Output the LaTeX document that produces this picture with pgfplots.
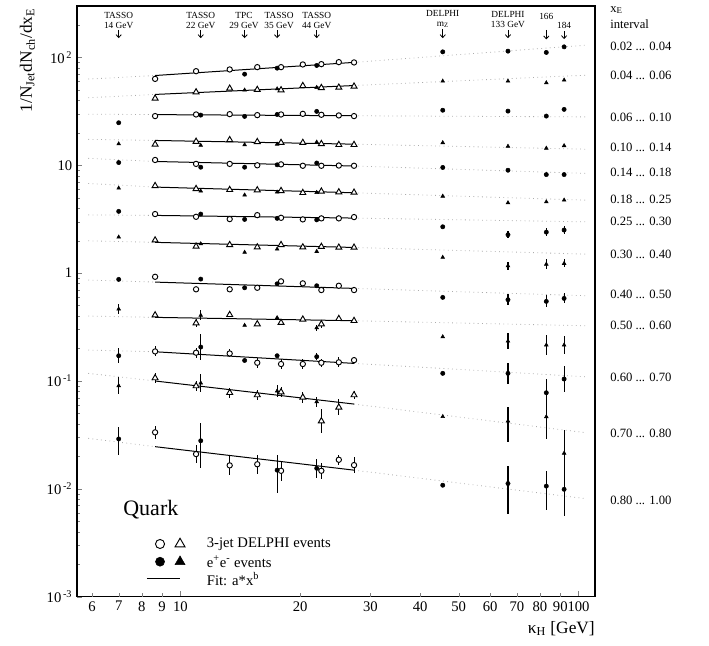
\documentclass[border=0pt]{standalone}
\usepackage{fontspec}
\setmainfont{Liberation Serif}
\usepackage{pgfplots}
\pgfplotsset{compat=1.18}
\usetikzlibrary{arrows.meta}
\pgfplotsset{
  dotfit/.style={gray!65, line width=0.6pt, dash pattern=on 0.6pt off 2.6pt, no marks, forget plot},
  fitl/.style={black, line width=0.75pt, no marks, forget plot},
  ebar/.style={error bars/.cd, y dir=both, y explicit, error mark=none, error bar style={line width=0.8pt, solid}},
}
\begin{document}
\begin{tikzpicture}
\begin{axis}[
  scale only axis, width=388.5pt, height=443pt,
  xmode=log, ymode=log, xmin=5.5, xmax=110, ymin=1e-3, ymax=300,
  axis line style={line width=0.9pt},
  tick pos=left, tick align=inside,
  major tick length=4pt, minor tick length=2pt,
  xtick={10,100}, xticklabels={10,100},
  extra x ticks={6,7,8,9,20,30,40,50,60,70,80,90},
  extra x tick labels={6,7,8,9,20,30,40,50,60,70,80,90},
  extra x tick style={major tick length=2.5pt},
  minor xtick={},
  ytick={1e-3,1e-2,1e-1,1,10,100},
  yticklabels={10\textsuperscript{\,-3},10\textsuperscript{\,-2},10\textsuperscript{\,-1},1,10,10\textsuperscript{\,2}},
  minor ytick={2e-3,3e-3,4e-3,5e-3,6e-3,7e-3,8e-3,9e-3,2e-2,3e-2,4e-2,5e-2,6e-2,7e-2,8e-2,9e-2,0.2,0.3,0.4,0.5,0.6,0.7,0.8,0.9,2,3,4,5,6,7,8,9,20,30,40,50,60,70,80,90,200},
  tick label style={font=\fontsize{11}{13}\selectfont},
  /pgf/number format/assume math mode=true,
  clip=false,
  unbounded coords=jump,
]
% ---------------- dotted extrapolations ----------------
\addplot[dotfit] coordinates {(5.87,63.0) (8.64,68) (20,nan) (27.3,90) (104.6,130)};
\addplot[dotfit] coordinates {(5.87,42.3) (8.64,45.4) (20,nan) (27.3,54.9) (104.6,68.5)};
\addplot[dotfit] coordinates {(5.87,29.8) (8.64,29.5) (20,nan) (27.3,28.8) (104.6,28.1)};
\addplot[dotfit] coordinates {(5.87,17.4) (8.64,17.0) (20,nan) (27.3,15.7) (104.6,14.1)};
\addplot[dotfit] coordinates {(5.87,11.6) (8.64,10.85) (20,nan) (27.3,9.85) (104.6,8.41)};
\addplot[dotfit] coordinates {(5.87,6.79) (8.64,6.28) (20,nan) (27.3,5.56) (104.6,4.75)};
\addplot[dotfit] coordinates {(5.87,3.47) (8.64,3.43) (20,nan) (27.3,3.24) (104.6,2.99)};
\addplot[dotfit] coordinates {(5.87,1.995) (8.64,1.93) (20,nan) (27.3,1.73) (104.6,1.50)};
\addplot[dotfit] coordinates {(5.87,0.863) (8.64,0.826) (20,nan) (27.3,0.722) (104.6,0.617)};
\addplot[dotfit] coordinates {(5.87,0.400) (8.64,0.389) (20,nan) (27.3,0.362) (104.6,0.325)};
\addplot[dotfit] coordinates {(5.87,0.1936) (8.64,0.1866) (20,nan) (27.3,0.1456) (104.6,0.1094)};
\addplot[dotfit] coordinates {(5.87,0.1177) (8.64,0.100) (20,nan) (27.3,0.0611) (104.6,0.0331)};
\addplot[dotfit] coordinates {(5.87,0.0294) (8.64,0.0246) (20,nan) (27.3,0.0149) (104.6,0.0081)};
% ---------------- fits ----------------
\addplot[fitl] coordinates {(8.64,68) (27.3,90)};
\addplot[fitl] coordinates {(8.64,45.4) (27.3,54.9)};
\addplot[fitl] coordinates {(8.64,29.5) (27.3,28.8)};
\addplot[fitl] coordinates {(8.64,17.0) (27.3,15.7)};
\addplot[fitl] coordinates {(8.64,10.85) (27.3,9.85)};
\addplot[fitl] coordinates {(8.64,6.28) (27.3,5.56)};
\addplot[fitl] coordinates {(8.64,3.43) (27.3,3.24)};
\addplot[fitl] coordinates {(8.64,1.93) (27.3,1.73)};
\addplot[fitl] coordinates {(8.64,0.826) (27.3,0.722)};
\addplot[fitl] coordinates {(8.64,0.389) (27.3,0.362)};
\addplot[fitl] coordinates {(8.64,0.1866) (27.3,0.1456)};
\addplot[fitl] coordinates {(8.64,0.100) (27.3,0.0611)};
\addplot[fitl] coordinates {(8.64,0.0246) (27.3,0.0149)};
% ---------------- open circles (3-jet) ----------------
\addplot[only marks, mark=*, mark size=2pt, line width=0.7pt, mark options={fill=white}, ebar] coordinates {
(8.64,63.3) (10.95,74.6) (13.3,77.4) (15.6,81.3) (17.9,81.3) (20.3,86.1) (22.6,86.7) (25.0,90.5) (27.3,89.9)
(8.64,28.6) (10.95,29.6) (13.3,29.8) (15.6,29.2) (17.9,29.6) (20.3,30.0) (22.6,29.4) (25.0,29.0) (27.3,28.6)
(8.64,11.2) (10.95,10.3) (13.3,10.3) (15.6,10.0) (17.9,10.2) (20.3,9.9) (22.6,9.9) (25.0,9.95) (27.3,9.9)
(8.64,3.53) (10.95,3.33) (13.3,3.17) (15.6,3.45) (17.9,3.26) (20.3,3.15) (22.6,3.22) (25.0,3.22) (27.3,3.31)
(8.64,0.925) (10.95,0.708) (13.3,0.708) (15.6,0.732) (17.9,0.839) (20.3,0.804) (22.6,0.697) (25.0,0.764) (27.3,0.697)
(8.64,0.188) += (0,0.021) -= (0,0.019)
(10.95,0.183) += (0,0.020) -= (0,0.018)
(13.3,0.180) += (0,0.016) -= (0,0.014)
(15.6,0.1476) += (0,0.017) -= (0,0.015)
(17.9,0.1436) += (0,0.016) -= (0,0.014)
(20.3,0.1436) += (0,0.016) -= (0,0.014)
(22.6,0.1476) += (0,0.013) -= (0,0.012)
(25.0,0.149) += (0,0.017) -= (0,0.015)
(27.3,0.156) += (0,0.010) -= (0,0.010)
(8.64,0.0334) += (0,0.0051) -= (0,0.0044)
(10.95,0.0210) += (0,0.0043) -= (0,0.0036)
(13.3,0.0165) += (0,0.0039) -= (0,0.0032)
(15.6,0.0169) += (0,0.0038) -= (0,0.0031)
(17.9,0.0147) += (0,0.0035) -= (0,0.0028)
(22.6,0.0147) += (0,0.0027) -= (0,0.0023)
(25.0,0.0186) += (0,0.0021) -= (0,0.0019)
(27.3,0.0166) += (0,0.0030) -= (0,0.0026)
};
% ---------------- open triangles (3-jet) ----------------
\addplot[only marks, mark=triangle*, mark size=2.6pt, line width=0.7pt, mark options={fill=white}, ebar] coordinates {
(8.64,41.7) (10.95,47.7) (13.3,51.6) (15.6,50.2) (17.9,49.8) (20.3,54.6) (22.6,52.3) (25.0,52.7) (27.3,53.9)
(8.64,15.6) (10.95,16.6) (13.3,17.2) (15.6,16.5) (17.9,16.2) (20.3,16.2) (22.6,15.8) (25.0,15.5) (27.3,15.5)
(8.64,6.45) (10.95,6.05) (13.3,5.93) (15.6,5.89) (17.9,5.80) (20.3,5.56) (22.6,5.73) (25.0,5.64) (27.3,5.6)
(8.64,2.02) (10.95,1.77) (13.3,1.83) (15.6,1.74) (17.9,1.83) (20.3,1.74) (22.6,1.76) (25.0,1.73) (27.3,1.73)
(8.64,0.408)
(10.95,0.344) += (0,0.030) -= (0,0.028)
(13.3,0.411) (15.6,0.337) (17.9,0.347) (20.3,0.3727)
(22.6,0.337) += (0,0.030) -= (0,0.028)
(25.0,0.3776) (27.3,0.3617)
(8.64,0.1065) += (0,0.012) -= (0,0.011)
(10.95,0.0898) += (0,0.011) -= (0,0.009)
(13.3,0.0778) += (0,0.009) -= (0,0.008)
(15.6,0.0741) += (0,0.009) -= (0,0.008)
(17.9,0.0789) += (0,0.009) -= (0,0.008)
(20.3,0.0705) += (0,0.009) -= (0,0.008)
(22.6,0.0425) += (0,0.0124) -= (0,0.0096)
(25.0,0.057) += (0,0.0106) -= (0,0.009)
(27.3,0.0741) += (0,0.006) -= (0,0.006)
};
% ---------------- filled circles (e+e-) ----------------
\addplot[only marks, mark=*, mark size=1.6pt, black, ebar] coordinates {
(14.5,70.0) (17.5,79.6) (22.0,84.3) (45.6,112.7) (66.5,114.4) (83,111.3) (92,125.4)
(7,24.8) (11.25,29.2) (14.5,28.4) (17.5,29.6) (22.0,31.6) (45.6,32.4) (66.5,31.8) (83,28.6) (92,33.0)
(7,10.6) (11.25,9.6) (14.5,9.6) (17.5,10.1) (22.0,10.5) (45.6,9.55) (66.5,9.0) (83,8.2) (92,8.2)
(7,3.74) (11.25,3.53) (14.5,3.15) (17.5,3.22) (22.0,3.12) (45.6,2.69)
(66.5,2.27) += (0,0.17) -= (0,0.16)
(83,2.40) += (0,0.22) -= (0,0.20)
(92,2.51) += (0,0.20) -= (0,0.19)
(7,0.875) (11.25,0.881) (14.5,0.732) (17.5,0.797) (22.0,0.764) (45.6,0.596)
(66.5,0.567) += (0,0.072) -= (0,0.063)
(83,0.547) += (0,0.075) -= (0,0.066)
(92,0.583) += (0,0.065) -= (0,0.058)
(7,0.1714) += (0,0.031) -= (0,0.026)
(11.25,0.2064) += (0,0.065) -= (0,0.050)
(14.5,0.155) (17.5,0.1714)
(22.0,0.168) += (0,0.012) -= (0,0.011)
(45.6,0.1177)
(66.5,0.1177) += (0,0.028) -= (0,0.023)
(83,0.0778) += (0,0.027) -= (0,0.020)
(92,0.1043) += (0,0.033) -= (0,0.025)
(7,0.029) += (0,0.0087) -= (0,0.0084)
(11.25,0.0279) += (0,0.0126) -= (0,0.0124)
(17.5,0.0149) += (0,0.0059) -= (0,0.0058)
(22.0,0.0155) += (0,0.0034) -= (0,0.0028)
(45.6,0.0108)
(66.5,0.0112) += (0,0.0050) -= (0,0.0053)
(83,0.0106) += (0,0.0041) -= (0,0.0043)
(92,0.0099) += (0,0.0067) -= (0,0.0043)
};
% ---------------- filled triangles (e+e-) ----------------
\addplot[only marks, mark=triangle*, mark size=1.6pt, black, ebar] coordinates {
(14.5,49.8) (17.5,51.1) (22.0,52.7) (45.6,60.3) (66.5,60.3) (83,58.2) (92,61.6)
(7,15.8) (11.25,15.3) (14.5,15.5) (17.5,15.7) (22.0,16.4) (45.6,16.2) (66.5,15.0) (83,14.4) (92,15.2)
(7,6.14) (11.25,5.77) (14.5,5.3) (17.5,5.64) (22.0,5.6) (45.6,5.17) (66.5,4.49) (83,4.58) (92,4.75)
(7,2.16) (11.25,1.87) (14.5,1.56) (17.5,1.67) (22.0,1.59) (45.6,1.40)
(66.5,1.17) += (0,0.11) -= (0,0.10)
(83,1.21) += (0,0.14) -= (0,0.12)
(92,1.23) += (0,0.11) -= (0,0.10)
(7,0.4647) += (0,0.052) -= (0,0.047)
(11.25,0.406) += (0,0.047) -= (0,0.040)
(14.5,0.328) (17.5,0.386)
(22.0,0.3114) += (0,0.020) -= (0,0.019)
(45.6,0.257)
(66.5,0.234) += (0,0.042) -= (0,0.035)
(83,0.2155) += (0,0.051) -= (0,0.041)
(92,0.2155) += (0,0.045) -= (0,0.037)
(7,0.0903) += (0,0.0175) -= (0,0.0147)
(11.25,0.0957) += (0,0.020) -= (0,0.017)
(17.5,0.0807) += (0,0.011) -= (0,0.010)
(22.0,0.0642) += (0,0.0074) -= (0,0.0067)
(45.6,0.0467)
(66.5,0.0425) += (0,0.015) -= (0,0.0153)
(83,0.0466) += (0,0.011) -= (0,0.0175)
(92,0.0214) += (0,0.0138) -= (0,0.0082)
};
% ---------------- legend symbols ----------------
\addplot[only marks, mark=*, mark size=3.4pt, line width=0.7pt, mark options={fill=white}] coordinates {(8.89,0.00308)};
\addplot[only marks, mark=triangle*, mark size=4.3pt, line width=0.7pt, mark options={fill=white}] coordinates {(9.98,0.00308)};
\addplot[only marks, mark=*, mark size=3.4pt, black] coordinates {(8.89,0.00211)};
\addplot[only marks, mark=triangle*, mark size=4.3pt, black] coordinates {(9.98,0.00211)};
\addplot[fitl] coordinates {(8.24,0.00146) (10.0,0.00146)};
% ---------------- texts ----------------
\begin{scope}[every node/.style={font=\fontsize{11}{13}\selectfont, anchor=west, inner sep=0pt}]
\node at (axis cs:11.64,0.00308) {3-jet DELPHI events};
\node at (axis cs:11.64,0.00211) {e\textsuperscript{+}e\textsuperscript{-} events};
\node at (axis cs:11.64,0.00146) {Fit: a*x\textsuperscript{b}};
\end{scope}
\node[anchor=west, inner sep=0pt, font=\fontsize{16.5}{18}\selectfont] at (axis cs:7.18,0.00637) {Quark};
% headers (two-line nodes)
\begin{scope}[every node/.style={font=\fontsize{7}{7.6}\selectfont, inner sep=0pt, align=center, anchor=south}]
\node at (axis cs:7,184) {TASSO\\14 GeV};
\node at (axis cs:11.25,184) {TASSO\\22 GeV};
\node at (axis cs:14.45,184) {TPC\\29 GeV};
\node at (axis cs:17.7,184) {TASSO\\35 GeV};
\node at (axis cs:22,184) {TASSO\\44 GeV};
\node at (axis cs:45.6,188) {DELPHI\\m\textsubscript{Z}};
\node at (axis cs:66.5,188) {DELPHI\\133 GeV};
\node at (axis cs:83,225) {166};
\node at (axis cs:92,184) {184};
\end{scope}
\begin{scope}[line width=0.6pt, -{Straight Barb[length=2.2pt,width=4pt]}]
\draw (axis cs:7,180) -- (axis cs:7,151);
\draw (axis cs:11.25,180) -- (axis cs:11.25,151);
\draw (axis cs:14.5,180) -- (axis cs:14.5,151);
\draw (axis cs:17.5,180) -- (axis cs:17.5,151);
\draw (axis cs:22,180) -- (axis cs:22,151);
\draw (axis cs:45.6,184) -- (axis cs:45.6,151);
\draw (axis cs:66.5,180) -- (axis cs:66.5,151);
\draw (axis cs:83,180) -- (axis cs:83,147);
\draw (axis cs:92,175) -- (axis cs:92,148);
\end{scope}
% right labels
\begin{scope}[every node/.style={font=\fontsize{9.5}{11}\selectfont, anchor=west, inner sep=0pt, xshift=11.25pt}]
\node at (axis cs:110,274) {x\textsubscript{E}};
\node at (axis cs:110,205) {interval};
\node at (axis cs:110,127) {0.02 ... 0.04};
\node at (axis cs:110,68.5) {0.04 ... 0.06};
\node at (axis cs:110,28.0) {0.06 ... 0.10};
\node at (axis cs:110,14.7) {0.10 ... 0.14};
\node at (axis cs:110,8.64) {0.14 ... 0.18};
\node at (axis cs:110,4.86) {0.18 ... 0.25};
\node at (axis cs:110,3.04) {0.25 ... 0.30};
\node at (axis cs:110,1.50) {0.30 ... 0.40};
\node at (axis cs:110,0.635) {0.40 ... 0.50};
\node at (axis cs:110,0.328) {0.50 ... 0.60};
\node at (axis cs:110,0.1088) {0.60 ... 0.70};
\node at (axis cs:110,0.0327) {0.70 ... 0.80};
\node at (axis cs:110,0.00788) {0.80 ... 1.00};
\end{scope}
% axis labels
\node[rotate=90, font=\fontsize{13}{15}\selectfont] at (axis cs:4.13,94) {1/N\textsubscript{Jet}dN\textsubscript{ch}/dx\textsubscript{E}};
\node[anchor=east, inner sep=0pt, font=\fontsize{13}{15}\selectfont] at (axis cs:110,5.1e-4) {κ\textsubscript{H} [GeV]};
\coordinate (BL) at (rel axis cs:0,0);
\coordinate (TR) at (rel axis cs:1,1);
\end{axis}
\pgfresetboundingbox
\path[use as bounding box] ([xshift=-57.75pt,yshift=-36.25pt]BL) rectangle ([xshift=85.5pt,yshift=4.5pt]TR);
\end{tikzpicture}
\end{document}
